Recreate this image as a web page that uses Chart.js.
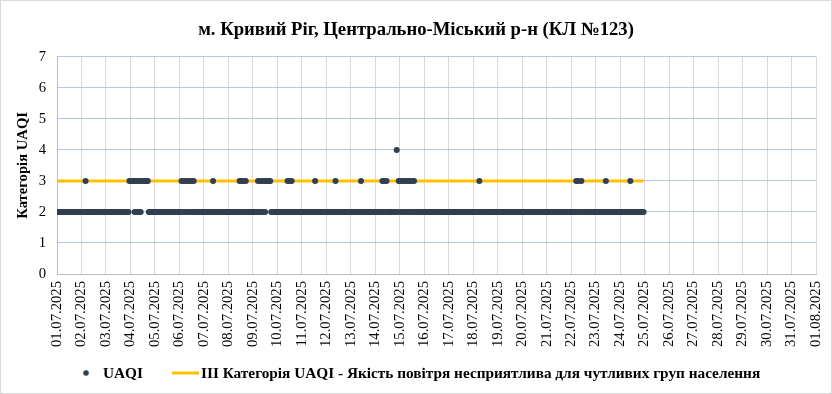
<!DOCTYPE html>
<html>
<head>
<meta charset="utf-8">
<title>UAQI</title>
<script src="https://cdn.jsdelivr.net/npm/chart.js@4.4.1/dist/chart.umd.min.js"></script>
<style>
  body { margin: 0; background: #fff; }
  #wrap { width: 832px; height: 394px; }
</style>
</head>
<body>
<div id="wrap"><canvas id="uaqiChart" width="832" height="394"></canvas></div>
<script>
const chartTitle = 'м. Кривий Ріг, Центрально-Міський р-н (КЛ №123)';
const yTitle = 'Категорія UAQI';
const seriesName = 'UAQI';
const limitName = 'III Категорія UAQI - Якість повітря несприятлива для чутливих груп населення';

const dateLabels = [
  '01.07.2025', '02.07.2025', '03.07.2025', '04.07.2025', '05.07.2025', '06.07.2025',
  '07.07.2025', '08.07.2025', '09.07.2025', '10.07.2025', '11.07.2025', '12.07.2025',
  '13.07.2025', '14.07.2025', '15.07.2025', '16.07.2025', '17.07.2025', '18.07.2025',
  '19.07.2025', '20.07.2025', '21.07.2025', '22.07.2025', '23.07.2025', '24.07.2025',
  '25.07.2025', '26.07.2025', '27.07.2025', '28.07.2025', '29.07.2025', '30.07.2025',
  '31.07.2025', '01.08.2025'
];
const yTicks = [0, 1, 2, 3, 4, 5, 6, 7];

// погодинні значення UAQI, один рядок на добу (символ = година 00..23)
const uaqiByDay = [
  '222222222222222222222222', // 01.07
  '222232222222222222222222', // 02.07
  '222222222222222222222223', // 03.07
  '333323232323333333222222', // 04.07
  '222222222222222222222222', // 05.07
  '223232323232323222222222', // 06.07
  '222222222322222222222222', // 07.07
  '222222222223232323222222', // 08.07
  '222223232323233333222222', // 09.07
  '222222222232323222222222', // 10.07
  '222222222222232222222222', // 11.07
  '222222222322222222222222', // 12.07
  '222222222232222222222222', // 13.07
  '222222232323222222222423', // 14.07
  '323232323232323222222222', // 15.07
  '222222222222222222222222', // 16.07
  '222222222222222222222222', // 17.07
  '222222322222222222222222', // 18.07
  '222222222222222222222222', // 19.07
  '222222222222222222222222', // 20.07
  '222222222222222222222222', // 21.07
  '222223232232222222222222', // 22.07
  '222222222232222222222222', // 23.07
  '222222222232222222222222'  // 24.07
];
const limitValue = 3;

const dotColor = '#333f50';
const limitColor = '#ffc000';
const serif = '"Liberation Serif", "Times New Roman", serif';

// x = година від 01.07 00:00
const uaqiPoints = [];
uaqiByDay.forEach((day, d) => {
  day.split('').forEach((v, h) => {
    uaqiPoints.push({ x: d * 24 + h, y: Number(v) });
  });
});
const limitPoints = uaqiPoints.map(p => ({ x: p.x, y: limitValue }));

// фон, рамка і легенда внизу
const frame = {
  id: 'frame',
  beforeDraw(chart) {
    const ctx = chart.ctx;
    ctx.save();
    ctx.fillStyle = '#fff';
    ctx.fillRect(0, 0, chart.width, chart.height);
    ctx.strokeStyle = '#d9d9d9';
    ctx.lineWidth = 1;
    ctx.strokeRect(0.5, 0.5, chart.width - 1, chart.height - 1);
    ctx.restore();
  },
  afterDraw(chart) {
    const ctx = chart.ctx;
    const ds = chart.data.datasets;
    const y = 374;
    ctx.save();
    ctx.font = 'bold 15.3px ' + serif;
    ctx.textBaseline = 'middle';
    ctx.fillStyle = ds[0].backgroundColor;
    ctx.beginPath();
    ctx.arc(86, y - 1, 2.8, 0, Math.PI * 2);
    ctx.fill();
    ctx.fillStyle = '#000';
    ctx.fillText(ds[0].label, 103, y);
    ctx.strokeStyle = ds[1].borderColor;
    ctx.lineWidth = 3;
    ctx.beginPath();
    ctx.moveTo(172, y - 1);
    ctx.lineTo(199, y - 1);
    ctx.stroke();
    ctx.fillText(ds[1].label, 201, y);
    ctx.restore();
  }
};

new Chart(document.getElementById('uaqiChart'), {
  type: 'scatter',
  data: {
    datasets: [
      {
        label: seriesName,
        data: uaqiPoints,
        backgroundColor: dotColor,
        borderWidth: 0,
        pointRadius: 3,
        order: 0
      },
      {
        type: 'line',
        label: limitName,
        data: limitPoints,
        borderColor: limitColor,
        borderWidth: 3,
        pointRadius: 0,
        fill: false,
        order: 1
      }
    ]
  },
  options: {
    responsive: false,
    animation: false,
    devicePixelRatio: 1,
    layout: { padding: { left: 0, right: 0, top: 0, bottom: 30 } },
    plugins: {
      legend: { display: false },
      tooltip: { enabled: false },
      title: {
        display: true,
        text: chartTitle,
        color: '#000',
        font: { family: serif, size: 18.67, weight: 'bold' },
        padding: { top: 19, bottom: 15.4 }
      }
    },
    scales: {
      x: {
        type: 'linear',
        min: 0,
        max: (dateLabels.length - 1) * 24,
        afterFit: (scale) => {
          scale.height = 90;
          scale.paddingLeft = 0;
          scale.paddingRight = 16;
        },
        afterBuildTicks: (scale) => {
          scale.ticks = dateLabels.map((_, i) => ({ value: i * 24 }));
        },
        ticks: {
          autoSkip: false,
          minRotation: 90,
          maxRotation: 90,
          padding: 7,
          color: '#000',
          font: { family: serif, size: 14.67 },
          callback: (v, i) => dateLabels[i]
        },
        grid: { color: '#d9d9d9', drawTicks: false },
        border: { color: '#bfbfbf' }
      },
      y: {
        min: yTicks[0],
        max: yTicks[yTicks.length - 1],
        afterFit: (scale) => { scale.width = 57; },
        afterBuildTicks: (scale) => {
          scale.ticks = yTicks.map(v => ({ value: v }));
        },
        ticks: {
          padding: 11,
          color: '#000',
          font: { family: serif, size: 14.67 }
        },
        grid: { color: '#b4c7e7', drawTicks: false },
        border: { color: '#bfbfbf' },
        title: {
          display: true,
          text: yTitle,
          color: '#000',
          font: { family: serif, size: 14.67, weight: 'bold' },
          padding: { top: 14, bottom: 0 }
        }
      }
    }
  },
  plugins: [frame]
});
</script>
</body>
</html>
